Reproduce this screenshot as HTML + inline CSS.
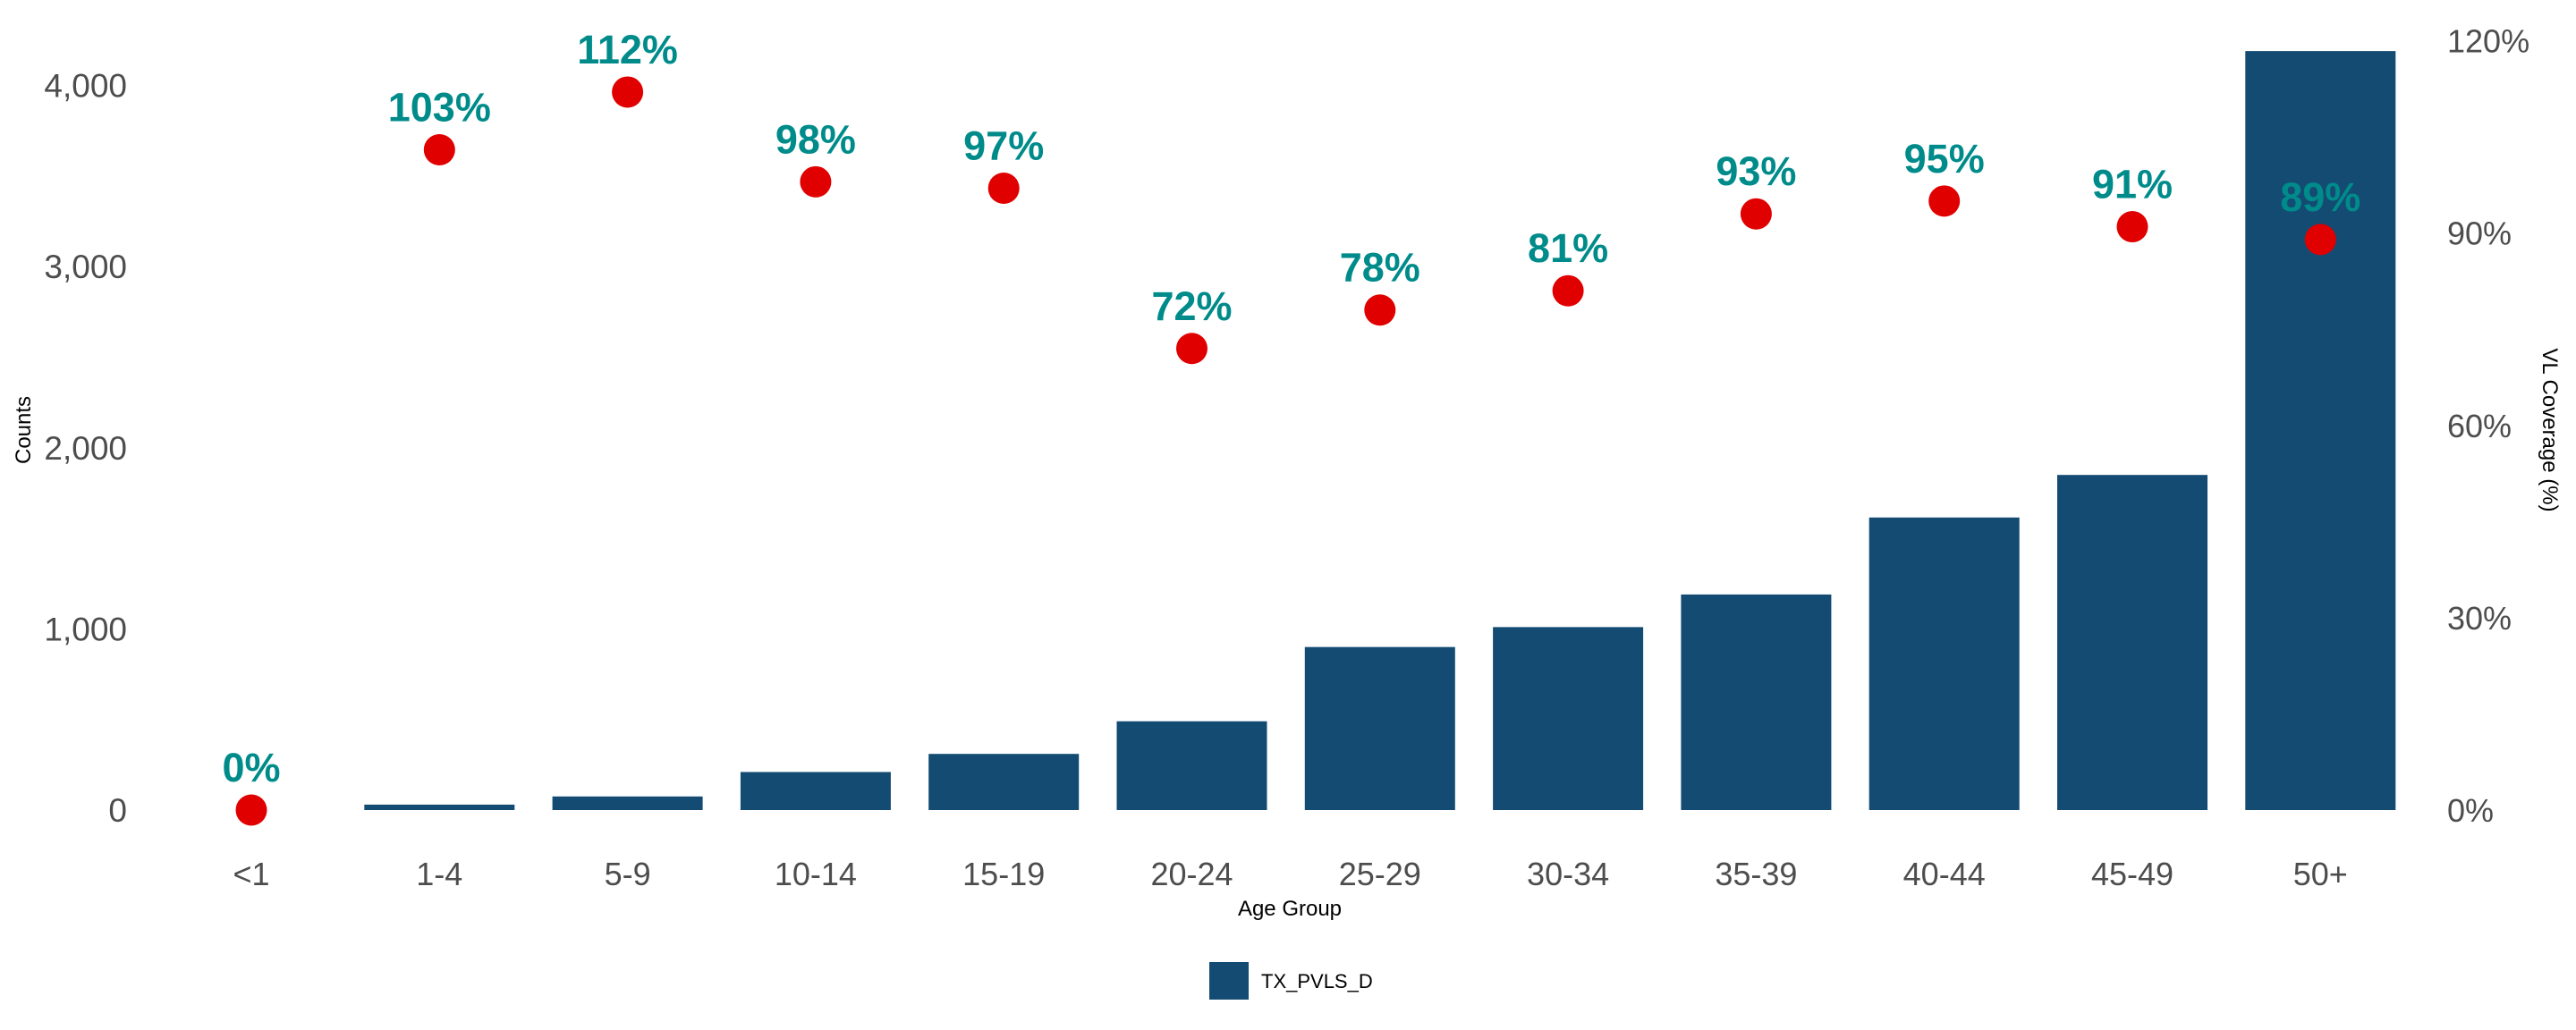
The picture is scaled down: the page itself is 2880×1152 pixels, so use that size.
<!DOCTYPE html>
<html><head><meta charset="utf-8"><style>
html,body{margin:0;padding:0;background:#fff;}
svg{display:block;font-family:"Liberation Sans",Arial,sans-serif;}
</style></head><body>
<svg id="chart" width="2880" height="1152" viewBox="0 0 2880 1152" xmlns="http://www.w3.org/2000/svg">
<g id="bars"></g>
<g id="points"></g>
<g id="yleft"></g>
<g id="yright"></g>
<g id="xaxis"></g>
<text x="0" y="0" transform="translate(34,481) rotate(-90)" text-anchor="middle" font-size="24" fill="#000">Counts</text>
<text x="0" y="0" transform="translate(2843,481) rotate(90)" text-anchor="middle" font-size="24" fill="#000">VL Coverage (%)</text>
<text x="1442" y="1024" text-anchor="middle" font-size="24" fill="#000">Age Group</text>
<g>
<rect x="1352" y="1076" width="44" height="42" fill="#134B73"/>
<text x="1410" y="1105" font-size="22" fill="#000">TX_PVLS_D</text>
</g>
</svg>
<script>
const categories = ["<1","1-4","5-9","10-14","15-19","20-24","25-29","30-34","35-39","40-44","45-49","50+"];
const counts = [0,30,75,210,310,490,900,1010,1190,1615,1850,4190];
const coverage = [0,103,112,98,97,72,78,81,93,95,91,89];
const leftTicks = [0,1000,2000,3000,4000];
const leftTickLabels = ["0","1,000","2,000","3,000","4,000"];
const rightTicks = [0,30,60,90,120];
const rightTickLabels = ["0%","30%","60%","90%","120%"];

const NS = "http://www.w3.org/2000/svg";
const Y0 = 906;
function yCount(v){ return Y0 - v * 0.2026; }
function yPct(p){ return Y0 - p * 7.17; }
function xCat(i){ return 281 + i * 210.3; }
const BW = 168;
function mk(tag, attrs, parent){ const e = document.createElementNS(NS, tag); for (const k in attrs) e.setAttribute(k, attrs[k]); parent.appendChild(e); return e; }

const bars = document.getElementById("bars");
const pts = document.getElementById("points");
const yl = document.getElementById("yleft");
const yr = document.getElementById("yright");
const xa = document.getElementById("xaxis");

categories.forEach((c, i) => {
  const top = yCount(counts[i]);
  const r = mk("rect", {x: xCat(i) - BW/2, y: top, width: BW, height: Math.max(0, Y0 - top), fill: "#134B73"}, bars);
  
  
  const t = mk("text", {x: xCat(i), y: 990, "text-anchor": "middle", "font-size": 36, fill: "#4d4d4d"}, xa);
  t.textContent = c;
  
  
});

categories.forEach((c, i) => {
  const py = yPct(coverage[i]);
  const p = mk("circle", {cx: xCat(i), cy: py, r: 17.5, fill: "#E00000"}, pts);
  
  
  const l = mk("text", {x: xCat(i), y: py - 32, "text-anchor": "middle", "font-size": 45, "font-weight": "bold", fill: "#008B8B"}, pts);
  l.textContent = coverage[i] + "%";
  
  
});

leftTicks.forEach((v, i) => {
  const t = mk("text", {x: 142, y: yCount(v) + 13, "text-anchor": "end", "font-size": 37, fill: "#4d4d4d"}, yl);
  t.textContent = leftTickLabels[i];
  
  
});
rightTicks.forEach((v, i) => {
  const t = mk("text", {x: 2736, y: yPct(v) + 13, "text-anchor": "start", "font-size": 36, fill: "#4d4d4d"}, yr);
  t.textContent = rightTickLabels[i];
  
  
});
</script>
</body></html>
